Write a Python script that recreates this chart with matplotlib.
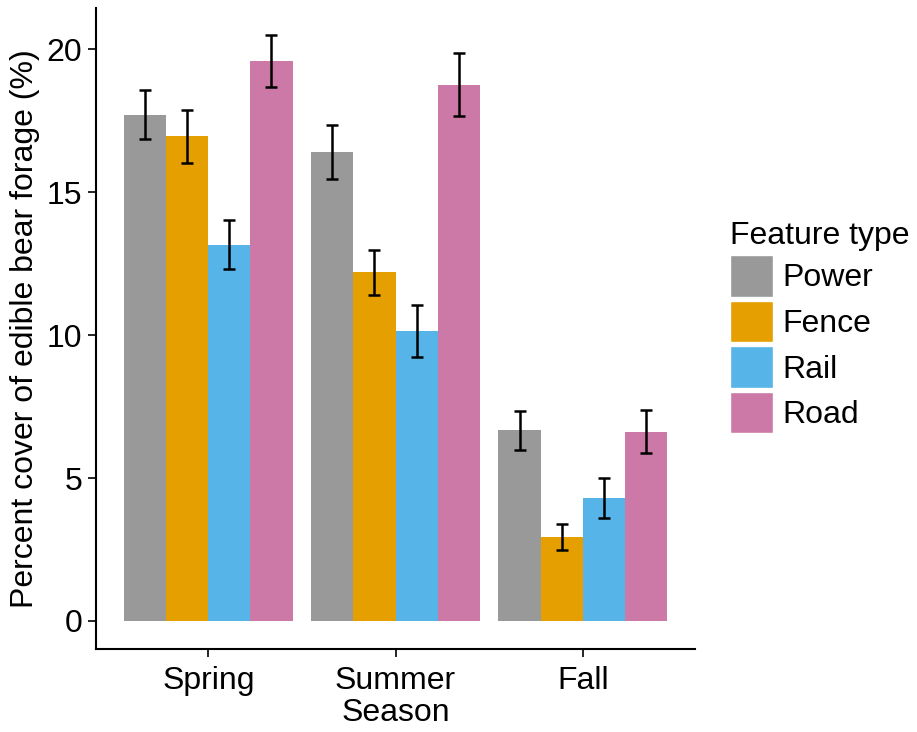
import matplotlib
matplotlib.use("Agg")
import matplotlib.pyplot as plt
import numpy as np
from matplotlib.patches import Patch

seasons = ["Spring", "Summer", "Fall"]
features = ["Power", "Fence", "Rail", "Road"]
colors = ["#999999", "#E69F00", "#56B4E9", "#CC79A7"]
means = {
    "Power": [17.71, 16.42, 6.67],
    "Fence": [16.96, 12.20, 2.95],
    "Rail":  [13.17, 10.16, 4.31],
    "Road":  [19.59, 18.77, 6.63],
}
errs = {
    "Power": [0.86, 0.95, 0.68],
    "Fence": [0.93, 0.79, 0.46],
    "Rail":  [0.86, 0.91, 0.70],
    "Road":  [0.90, 1.10, 0.75],
}
yticks = [0, 5, 10, 15, 20]

plt.rcParams['font.family'] = ['Liberation Sans', 'DejaVu Sans']
fig = plt.figure(figsize=(9.17, 7.32), dpi=100)
ax = fig.add_axes([96/917, 1-649/732, (695-96)/917, (649-8)/732])

x = np.arange(1, len(seasons)+1)
w = 0.9/len(features)
for i, f in enumerate(features):
    pos = x - 0.45 + w/2 + i*w
    ax.bar(pos, means[f], width=w, color=colors[i], edgecolor='none')
    ax.errorbar(pos, means[f], yerr=errs[f], fmt='none', ecolor='black',
                elinewidth=1.8, capsize=4.5, capthick=1.8)

ax.set_xlim(0.4, 3.6)
ax.set_ylim(-0.98, 21.45)
ax.set_xticks(x)
ax.set_xticklabels(seasons)
ax.set_yticks(yticks)
ax.set_yticklabels([str(t) for t in yticks])
for s in ['top', 'right']:
    ax.spines[s].set_visible(False)
for s in ['left', 'bottom']:
    ax.spines[s].set_linewidth(1.5)
ax.tick_params(axis='x', labelsize=23, length=6, width=1.2, colors='black', pad=6)
ax.tick_params(axis='y', labelsize=23, length=6, width=1.2, colors='black', pad=4)
ax.set_xlabel("Season", fontsize=23, labelpad=2)
ax.set_ylabel("Percent cover of edible bear forage (%)", fontsize=23, labelpad=5)

handles = [Patch(facecolor=c, edgecolor='white', label=f) for f, c in zip(features, colors)]
leg = fig.legend(handles=handles, title="Feature type", loc='upper left',
                 bbox_to_anchor=(730/917, 1-221/732), frameon=False, borderpad=0,
                 fontsize=23, title_fontsize=23, handlelength=1.35, handleheight=1.62,
                 handletextpad=0.3, labelspacing=0.13, borderaxespad=0)
leg._legend_box.align = "left"

fig.savefig("out.png", dpi=100)
